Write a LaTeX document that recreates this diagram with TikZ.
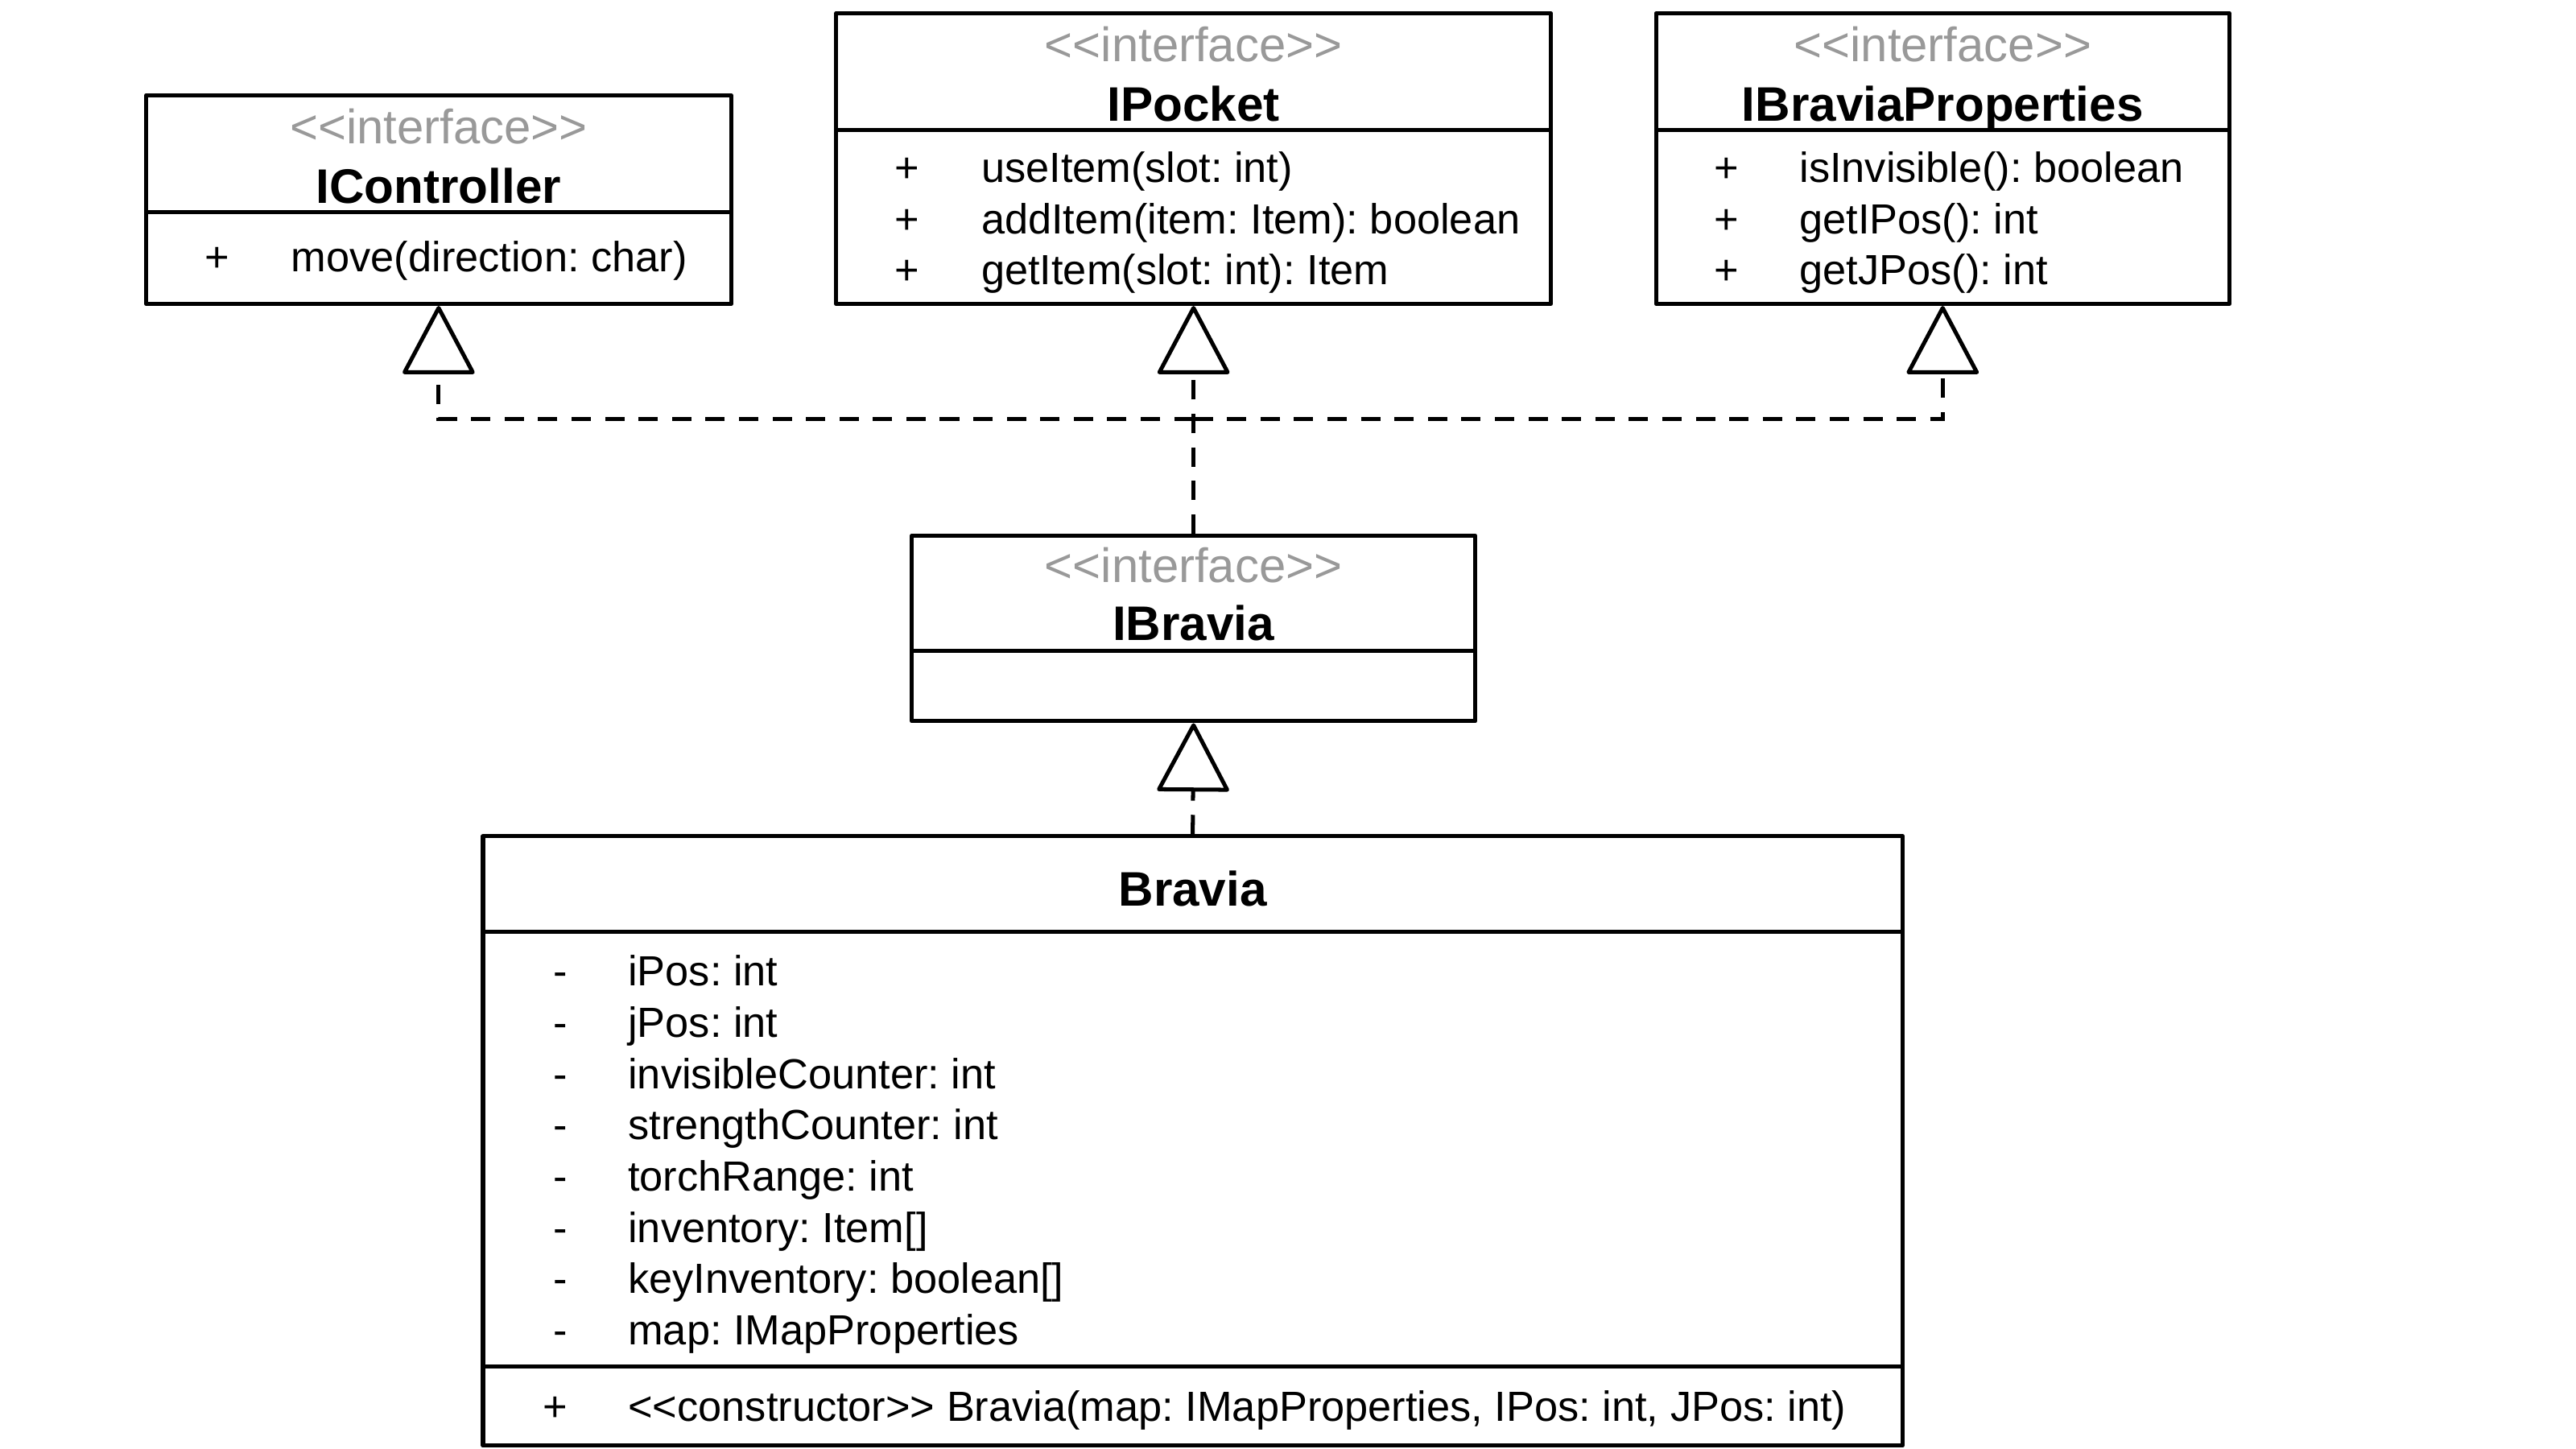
\documentclass[tikz,border=0pt]{standalone}
\usepackage{fontspec}
\setmainfont{Liberation Sans}
\usepackage{tikz}
\usetikzlibrary{arrows.meta,fit}
\definecolor{stereogray}{RGB}{153,153,153}
\frenchspacing

\begin{document}
\begin{tikzpicture}[x=0.02cm,y=-0.02cm,
    classbox/.style={draw=black,line width=1.4pt,line join=round,inner sep=0pt},
    divider/.style={black,line width=1.4pt},
    stereo/.style={inner sep=0pt,text height=11.96pt,text depth=0pt,text=stereogray,font=\fontsize{16.7}{20}\selectfont},
    cname/.style={inner sep=0pt,text height=12.03pt,text depth=0pt,font=\fontsize{16.8}{20}\selectfont\bfseries},
    vis/.style={inner sep=0pt,text height=10.45pt,text depth=0pt,font=\fontsize{14.6}{17}\selectfont},
    member/.style={vis,anchor=west},
    realize/.style={black,line width=1.4pt,dash pattern=on 6.7pt off 4.9pt,
      -{Triangle[open,round,length=0.86cm,width=0.9cm]}}]
     \useasboundingbox (0,0) rectangle (1568,882);
     \node [classbox,fit={(89,58) (445,185)}] (icontroller) {};
     \draw [divider] (89,129) -- (445,129);
     \node [stereo] (icontrollerst) at (267,77) {<{}<interface>{}>};
     \node [cname] (icontrollername) at (267,113) {IController};
     \node [vis] (icontrollerv1) at (132,156) {+};
     \node [member] (icontrollerm1) at (177,156) {move(direction: char)};
     \node [classbox,fit={(509,8) (944,185)}] (ipocket) {};
     \draw [divider] (509,79) -- (944,79);
     \node [stereo] (ipocketst) at (726.5,27) {<{}<interface>{}>};
     \node [cname] (ipocketname) at (726.5,63) {IPocket};
     \node [vis] (ipocketv1) at (552,102) {+};
     \node [member] (ipocketm1) at (597,102) {useItem(slot: int)};
     \node [vis] (ipocketv2) at (552,133) {+};
     \node [member] (ipocketm2) at (597,133) {addItem(item: Item): boolean};
     \node [vis] (ipocketv3) at (552,164) {+};
     \node [member] (ipocketm3) at (597,164) {getItem(slot: int): Item};
     \node [classbox,fit={(1008,8) (1357,185)}] (iprops) {};
     \draw [divider] (1008,79) -- (1357,79);
     \node [stereo] (ipropsst) at (1182.5,27) {<{}<interface>{}>};
     \node [cname] (ipropsname) at (1182.5,63) {IBraviaProperties};
     \node [vis] (ipropsv1) at (1051,102) {+};
     \node [member] (ipropsm1) at (1095,102) {isInvisible(): boolean};
     \node [vis] (ipropsv2) at (1051,133) {+};
     \node [member] (ipropsm2) at (1095,133) {getIPos(): int};
     \node [vis] (ipropsv3) at (1051,164) {+};
     \node [member] (ipropsm3) at (1095,164) {getJPos(): int};
     \node [classbox,fit={(555,326) (898,439)}] (ibravia) {};
     \draw [divider] (555,396) -- (898,396);
     \node [stereo] (ibraviast) at (726.5,344) {<{}<interface>{}>};
     \node [cname] (ibravianame) at (726.5,379) {IBravia};
     \node [classbox,fit={(294,509) (1158,880)}] (bravia) {};
     \draw [divider] (294,567) -- (1158,567);
     \draw [divider] (294,832) -- (1158,832);
     \node [cname] (bravianame) at (726,541) {Bravia};
     \node [vis] (braviav1) at (341,591) {-};
     \node [member] (braviam1) at (382,591) {iPos: int};
     \node [vis] (braviav2) at (341,622.2) {-};
     \node [member] (braviam2) at (382,622.2) {jPos: int};
     \node [vis] (braviav3) at (341,653.4) {-};
     \node [member] (braviam3) at (382,653.4) {invisibleCounter: int};
     \node [vis] (braviav4) at (341,684.6) {-};
     \node [member] (braviam4) at (382,684.6) {strengthCounter: int};
     \node [vis] (braviav5) at (341,715.8) {-};
     \node [member] (braviam5) at (382,715.8) {torchRange: int};
     \node [vis] (braviav6) at (341,747) {-};
     \node [member] (braviam6) at (382,747) {inventory: Item[]};
     \node [vis] (braviav7) at (341,778.2) {-};
     \node [member] (braviam7) at (382,778.2) {keyInventory: boolean[]};
     \node [vis] (braviav8) at (341,809.4) {-};
     \node [member] (braviam8) at (382,809.4) {map: IMapProperties};
     \node [vis] (braviav9) at (338,856) {+};
     \node [member] (braviam9) at (382,856) {<{}<constructor>{}> Bravia(map: IMapProperties, IPos: int, JPos: int)};
     \coordinate (hub) at (726.5,255);
     \draw [realize] (ibravia.north) -- (ipocket.south);
     \draw [realize] (hub) -| (icontroller.south);
     \draw [realize] (hub) -| (iprops.south);
     \draw [realize] (bravia.north) -- (ibravia.south);
\end{tikzpicture}
\end{document}
